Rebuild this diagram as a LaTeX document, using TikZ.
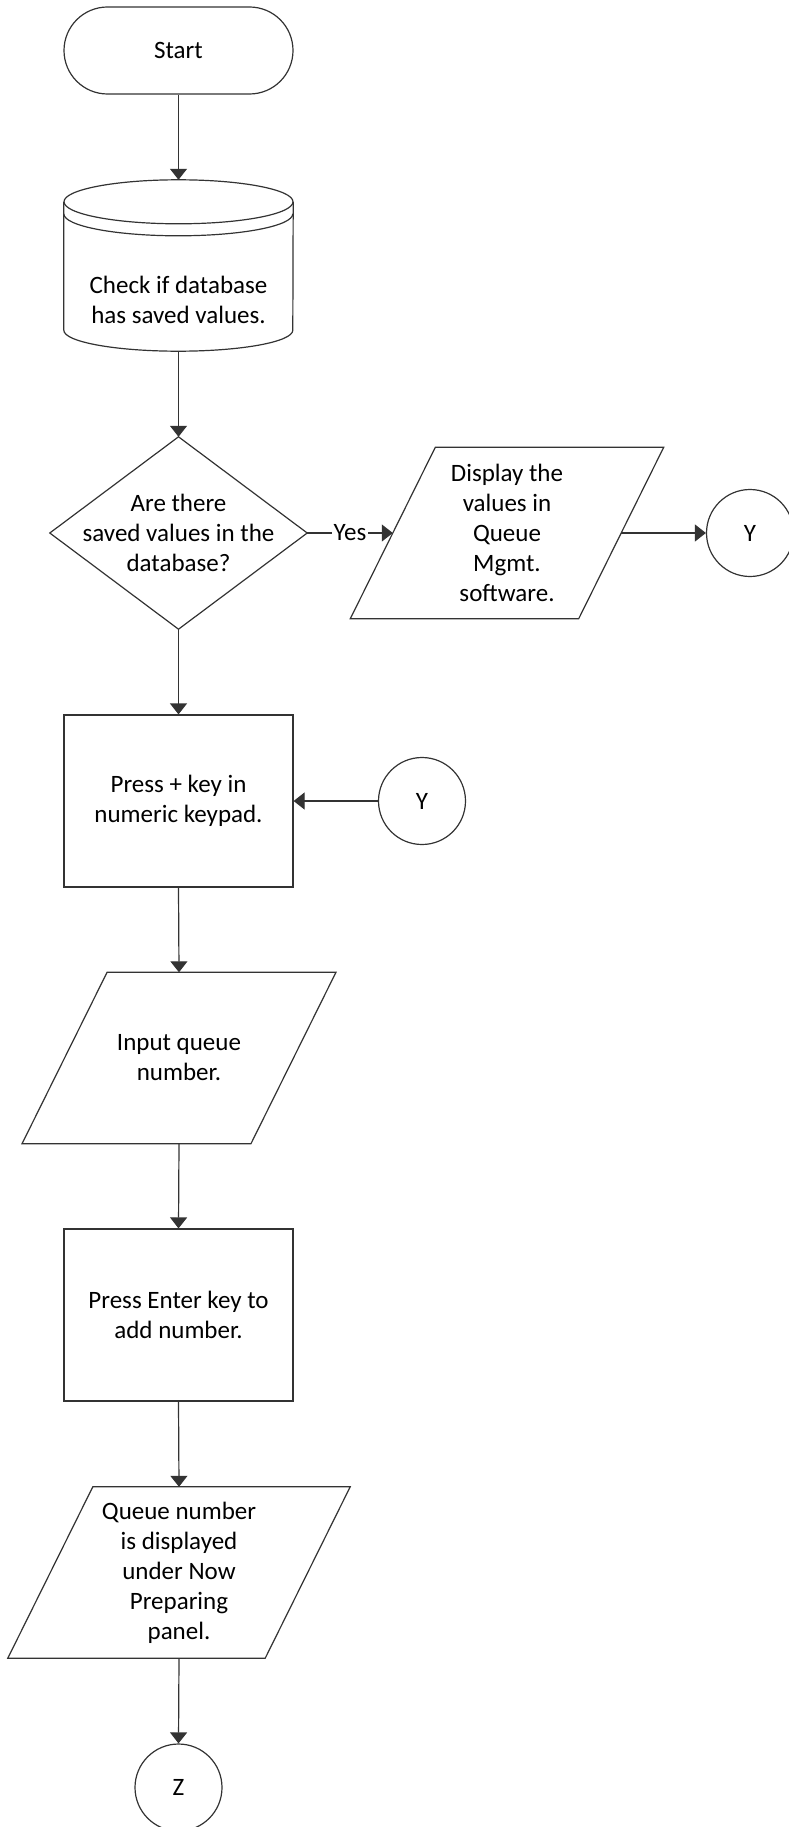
\documentclass[tikz,border=0pt]{standalone}
\usepackage{fontspec}
\setmainfont{Carlito}
\usepackage{tikz}
\usetikzlibrary{
  arrows.meta,
  calc
}
\tikzset{
  flowtext/.style={align=center,font=\fontsize{25}{30}\selectfont,inner sep=0pt},
  shapeline/.style={draw=black!80,line width=1.2pt},
  terminal/.style={flowtext,shapeline,rectangle,rounded corners=43.5pt,minimum width=229pt,minimum height=87pt},
  process/.style={flowtext,shapeline,rectangle,minimum width=229pt,minimum height=172pt},
  connector/.style={flowtext,shapeline,circle,minimum size=87pt},
  plainbox/.style={flowtext,rectangle,minimum width=#1,minimum height=171pt},
  flowarrow/.style={shapeline,-{Triangle[length=11pt,width=17pt]}},
}
% shapes drawn round the plain boxes
\newcommand{\slantbox}[1]{%
  \draw[shapeline] ($(#1.north west)+(42.5,0)$) -- ($(#1.north east)+(42.5,0)$)
    -- ($(#1.south east)+(-42.5,0)$) -- ($(#1.south west)+(-42.5,0)$) -- cycle;}
\newcommand{\diamondbox}[1]{%
  \draw[shapeline] (#1.north) -- (#1.east) -- (#1.south) -- (#1.west) -- cycle;}
\newcommand{\drumbox}[1]{%
  \draw[shapeline] ($(#1.north)+(0,22)$) ellipse[x radius=114.5,y radius=22];
  \draw[shapeline] ($(#1.north west)+(0,34)$) arc[start angle=180,end angle=0,x radius=114.5,y radius=22];
  \draw[shapeline] ($(#1.north west)+(0,22)$) -- ($(#1.south west)+(0,-21)$)
    arc[start angle=180,end angle=0,x radius=114.5,y radius=21] -- ($(#1.north east)+(0,22)$);}

\begin{document}
\begin{tikzpicture}[x=1pt,y=-1pt]
\useasboundingbox (0,0) rectangle (789,1827);
% main column
\node[terminal] (start) at (178.5,50.5) {Start};
\node[plainbox=229pt,label={[flowtext,yshift=-34.5pt]center:{Check if database\\has saved values.}}] (db) at (178.5,265.5) {};
\node[plainbox=257pt,minimum height=192pt] (dec) at (178.5,533) {Are there\\saved values in the\\database?};
\node[process] (press) at (178.5,801) {Press + key in\\numeric keypad.};
\node[plainbox=228.5pt] (inp) at (179,1058) {Input queue\\number.};
\node[process] (enter) at (178.5,1315) {Press Enter key to\\add number.};
\node[plainbox=257pt] (queue) at (179,1572.5) {Queue number\\is displayed\\under Now\\Preparing\\panel.};
\node[connector] (z) at (178.5,1787.5) {Z};
% side branch
\node[plainbox=228pt] (disp) at (507,533) {Display the\\values in\\Queue\\Mgmt.\\software.};
\node[connector] (yout) at (750,533) {Y};
\node[connector] (yin) at (422,801) {Y};

\drumbox{db}
\diamondbox{dec}
\slantbox{disp}
\slantbox{inp}
\slantbox{queue}

\draw[flowarrow] (start.south) -- (db.north);
\draw[flowarrow] (db.south) -- (dec.north);
\draw[flowarrow] (dec.east) -- node[flowtext,fill=white,inner xsep=1.5pt] {Yes} (disp.west);
\draw[flowarrow] (disp.east) -- (yout.west);
\draw[flowarrow] (dec.south) -- (press.north);
\draw[flowarrow] (yin.west) -- (press.east);
\draw[flowarrow] (press.south) -- (inp.north);
\draw[flowarrow] (inp.south) -- (enter.north);
\draw[flowarrow] (enter.south) -- (queue.north);
\draw[flowarrow] (queue.south) -- (z.north);
\end{tikzpicture}
\end{document}
